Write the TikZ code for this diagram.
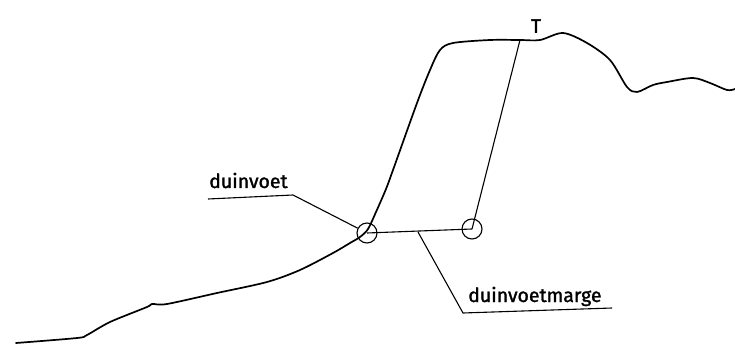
\documentclass[tikz,border=0pt]{standalone}
\usepackage{fontspec}
\newfontfamily\tagfont{Fira Sans}[FakeBold=1.5]
\usetikzlibrary{positioning}

\begin{document}
\begin{tikzpicture}[x=1pt, y=-1pt]
    % Define styles
    \tikzstyle{profile} = [line width=1.7pt, line join=round, line cap=round]
    \tikzstyle{leader} = [line width=1.1pt]
    \tikzstyle{ring} = [circle, draw, line width=1.1pt, minimum size=20pt, inner sep=0pt]
    \tikzstyle{tag} = [font=\tagfont\fontsize{19.5}{22}\selectfont, inner sep=1pt]

    \useasboundingbox (0,0) rectangle (735,344);

    % Dune profile
    \draw[profile] plot[smooth, tension=0.5] coordinates {
        (16,343) (77,338) (87,335) (110,322) (147,307) (152,304) (167,304)
        (217,293) (267,282) (300,270) (333,253) (350,243) (360,237)
        (368,229) (376,212) (386,189) (393,170)
        (417,103) (430,70) (440,50) (453,43) (490,40) (520,40) (540,40)
        (563,33) (587,43) (610,60) (627,87) (637,92) (653,85) (667,82)
        (693,78) (710,83) (727,90) (735,89)};

    % Nodes
    \node[ring] (voet) at (367,233) {};
    \node[ring] (marge) at (472,229) {};
    \coordinate (top) at (520,40);
    \node[tag, above=6pt of top, xshift=16pt] (tlabel) {T};
    \node[tag, anchor=base west] (voetlabel) at (208,188) {duinvoet};
    \node[tag, anchor=base west] (margelabel) at (467,302) {duinvoetmarge};
    \coordinate (voetstart) at (208,199);
    \coordinate (voetbend) at (293,195);
    \coordinate (margefoot) at (418,232);
    \coordinate (margebend) at (463,313);
    \coordinate (margeend) at (612,308);

    % Connections
    \draw[leader] (top) -- (marge.center);
    \draw[leader] (voet.center) -- (marge.center);
    \draw[leader] (voetstart) -- (voetbend) -- (voet);
    \draw[leader] (margefoot) -- (margebend) -- (margeend);
\end{tikzpicture}
\end{document}
